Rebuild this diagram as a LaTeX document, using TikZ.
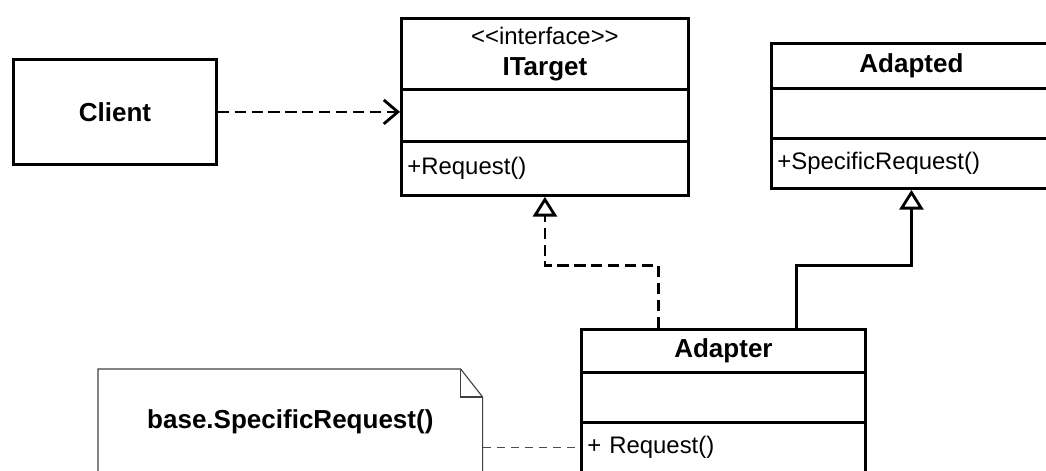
\documentclass[tikz,border=0pt]{standalone}
\usepackage{fontspec}
\setmainfont{Liberation Sans}
\usetikzlibrary{arrows.meta}

\tikzset{
  headtext/.style={font=\bfseries\fontsize{18.5}{22}\selectfont},
  membertext/.style={font=\fontsize{17}{20}\selectfont, align=left, inner xsep=0.15cm},
  hollowtip/.style={-{Triangle[open, length=14pt, width=17pt, fill=white]}},
}

\begin{document}
\begin{tikzpicture}[x=0.025cm, y=-0.025cm]
  \useasboundingbox (0,0) rectangle (1046,470);
  \clip (0,0) rectangle (1046,470);

  \begin{scope}[every node/.style={draw, rectangle, line width=2pt, anchor=north west, inner sep=0pt}]
    \node[headtext, minimum width=5.075cm, minimum height=2.625cm] (client) at (12,58) {Client};

    \node[minimum width=7.175cm, minimum height=1.775cm, align=center, font=\fontsize{17}{22}\selectfont] (itarget) at (400,17)
      {<\kern0pt<interface>\kern0pt>\\{\bfseries\fontsize{18.5}{22}\selectfont ITarget}};
    \node[minimum width=7.175cm, minimum height=1.3cm] (itarget-attr) at (400,88) {};
    \node[membertext, text width=6.875cm, minimum height=1.35cm] (itarget-ops) at (400,140) {+Request()};

    \node[headtext, minimum width=7cm, minimum height=1.125cm] (adapted) at (770,42) {Adapted};
    \node[minimum width=7cm, minimum height=1.25cm] (adapted-attr) at (770,87) {};
    \node[membertext, text width=6.7cm, minimum height=1.25cm] (adapted-ops) at (770,137) {+SpecificRequest()};

    \node[headtext, minimum width=7.1cm, minimum height=1.075cm] (adapter) at (580,328) {Adapter};
    \node[minimum width=7.1cm, minimum height=1.25cm] (adapter-attr) at (580,371) {};
    \node[membertext, text width=6.8cm, minimum height=1.25cm] (adapter-ops) at (580,421) {+ Request()};
  \end{scope}

  \node[headtext, anchor=north west, minimum width=9.6cm, minimum height=2.6cm, inner sep=0pt] (note) at (98,369) {base.SpecificRequest()};
  \draw[line width=0.8pt, black!75] (note.south west) -- (note.north west) -- ([xshift=-0.55cm]note.north east)
    -- ([yshift=-0.7cm]note.north east) -- (note.south east);
  \draw[line width=0.8pt, black!75] ([xshift=-0.55cm]note.north east) |- ([yshift=-0.7cm]note.north east);

  \path (itarget-ops.south) ++(0,69) coordinate (bendL);
  \path (adapted-ops.south) ++(0,76) coordinate (bendR);

  \begin{scope}[line width=2pt]
    \draw[dash pattern=on 8pt off 4pt, -{Straight Barb[length=10pt, width=17pt]}]
      (client.east) -- (client.east -| itarget-attr.west);
    \draw[dash pattern=on 8pt off 4pt, hollowtip]
      ([xshift=-1.625cm]adapter.north) |- (bendL) -- (itarget-ops.south);
    \draw[hollowtip] ([xshift=1.825cm]adapter.north) |- (bendR) -- (adapted-ops.south);
  \end{scope}

  \draw[line width=1pt, black!70, dash pattern=on 6pt off 4pt] (note.east |- adapter-ops.west) -- (adapter-ops.west);

\end{tikzpicture}
\end{document}
